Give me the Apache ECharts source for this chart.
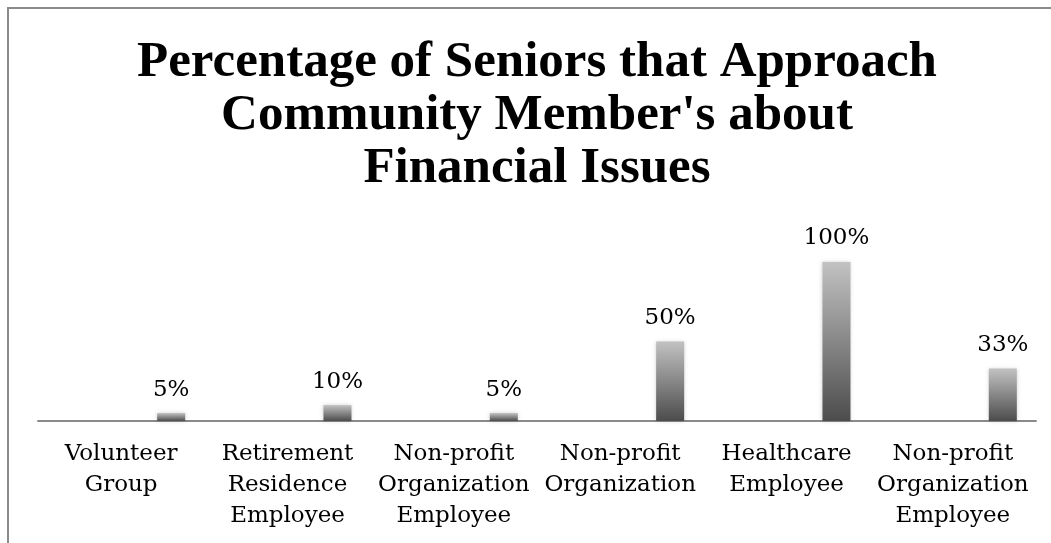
<!DOCTYPE html>
<html>
<head>
<meta charset="utf-8">
<title>Percentage of Seniors that Approach Community Member's about Financial Issues</title>
<script src="https://cdn.jsdelivr.net/npm/echarts@6/dist/echarts.min.js"></script>
<style>
  html, body { margin: 0; padding: 0; background: #ffffff; }
  #chart { width: 1051px; height: 543px; }
</style>
</head>
<body>
<div id="chart"></div>
<script>
// Chart text
const titleLines = [
  'Percentage of Seniors that Approach',
  "Community Member's about",
  'Financial Issues'
];

// Who the seniors approach (axis labels, wrapped as printed)
const categories = [
  'Volunteer\nGroup',
  'Retirement\nResidence\nEmployee',
  'Non-profit\nOrganization\nEmployee',
  'Non-profit\nOrganization',
  'Healthcare\nEmployee',
  'Non-profit\nOrganization\nEmployee'
];

// Share of seniors (%)
const percentages = [5, 10, 5, 50, 100, 33];

// Empty companion series: keeps each bar in the right half of its slot
const spacerValues = [null, null, null, null, null, null];

const labelFont = 'DejaVu Serif';

const chart = echarts.init(document.getElementById('chart'), null, { renderer: 'canvas' });

const barFill = new echarts.graphic.LinearGradient(0, 0, 0, 1, [
  { offset: 0, color: '#c2c2c2' },
  { offset: 1, color: '#4c4c4c' }
]);

chart.setOption({
  animation: false,
  backgroundColor: '#ffffff',
  title: {
    text: titleLines.join('\n'),
    left: 532,
    top: 31,
    textAlign: 'center',
    textStyle: {
      fontFamily: 'Liberation Serif',
      fontWeight: 'bold',
      fontSize: 51,
      lineHeight: 53,
      color: '#000000'
    }
  },
  graphic: [
    {
      type: 'rect',
      shape: { x: 8, y: 8, width: 1200, height: 700 },
      style: { fill: 'none', stroke: '#8a8a8a', lineWidth: 2 },
      silent: true,
      z: -1
    }
  ],
  grid: {
    left: 38,
    right: 15,
    top: 262,
    bottom: 122,
    containLabel: false
  },
  xAxis: {
    type: 'category',
    data: categories,
    boundaryGap: true,
    axisLine: { show: true, lineStyle: { color: '#8a8a8a', width: 2 } },
    axisTick: { show: false },
    axisLabel: {
      interval: 0,
      margin: 18,
      fontFamily: labelFont,
      fontSize: 23,
      lineHeight: 31,
      color: '#000000',
      align: 'center'
    },
    splitLine: { show: false }
  },
  yAxis: {
    type: 'value',
    min: 0,
    max: 100,
    show: false,
    splitLine: { show: false }
  },
  series: [
    {
      type: 'bar',
      name: 'spacer',
      data: spacerValues,
      barWidth: 28,
      barGap: '257%',
      silent: true
    },
    {
      type: 'bar',
      name: 'Percentage',
      data: percentages,
      barWidth: 28,
      barGap: '257%',
      itemStyle: {
        color: barFill,
        shadowColor: 'rgba(0,0,0,0.18)',
        shadowBlur: 4
      },
      label: {
        show: true,
        position: 'top',
        distance: 12,
        formatter: p => p.value + '%',
        fontFamily: labelFont,
        fontSize: 23,
        color: '#000000'
      }
    }
  ]
});
</script>
</body>
</html>
